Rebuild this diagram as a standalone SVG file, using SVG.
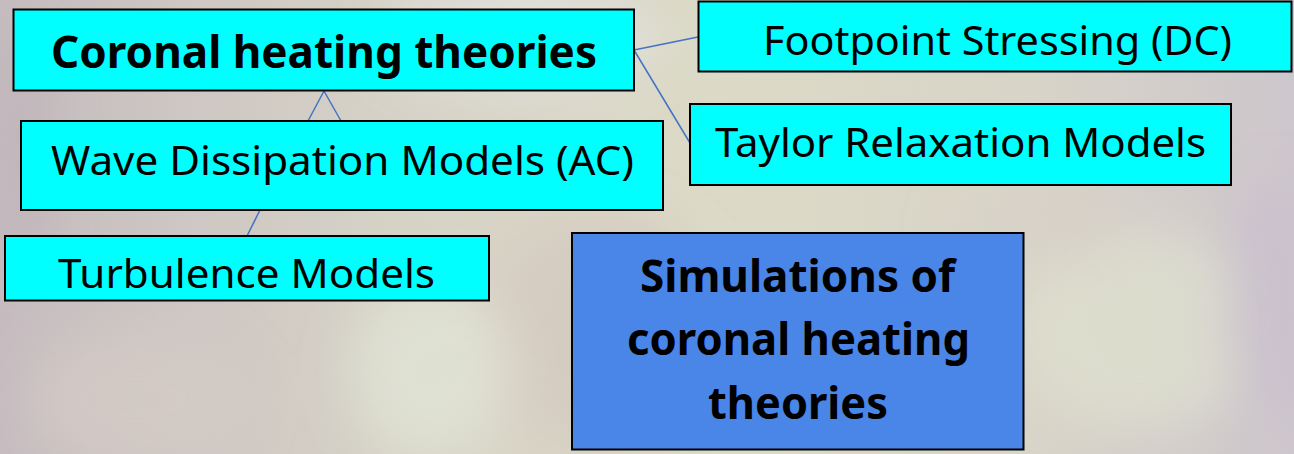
<svg xmlns="http://www.w3.org/2000/svg" width="1294" height="454" viewBox="0 0 1294 454">
  <defs>
    <linearGradient id="bg" x1="0" y1="0" x2="1" y2="0">
      <stop offset="0" stop-color="#c6bcc0"/>
      <stop offset="0.3" stop-color="#d6d2c6"/>
      <stop offset="0.55" stop-color="#dcdac6"/>
      <stop offset="0.8" stop-color="#d8d4c8"/>
      <stop offset="1" stop-color="#cdc6cc"/>
    </linearGradient>
    <filter id="blur" x="-50%" y="-50%" width="200%" height="200%">
      <feGaussianBlur stdDeviation="25"/>
    </filter>
    <style>
      .box { fill: #00ffff; stroke: #000000; stroke-width: 2; }
      .sim { fill: #4a86e8; stroke: #000000; stroke-width: 2; }
      .t { font-family: "Noto Sans", "Open Sans", "Liberation Sans", sans-serif; font-size: 40px; fill: #000000; text-anchor: middle; }
      .b { font-family: "Noto Sans", "Open Sans", "Liberation Sans", sans-serif; font-size: 44px; font-weight: bold; fill: #000000; text-anchor: middle; }
      .c { fill: none; stroke: #4472c4; stroke-width: 1.5; }
    </style>
  </defs>

  <g id="background">
    <rect x="0" y="0" width="1294" height="454" fill="url(#bg)"/>
    <g filter="url(#blur)" opacity="0.7">
      <ellipse cx="520" cy="40" rx="140" ry="50" fill="#e4e4e6"/>
      <ellipse cx="600" cy="330" rx="120" ry="120" fill="#d4c8c0"/>
      <ellipse cx="430" cy="370" rx="80" ry="90" fill="#e2e6d8"/>
      <ellipse cx="140" cy="400" rx="110" ry="70" fill="#d6ccc6"/>
      <ellipse cx="1140" cy="330" rx="120" ry="100" fill="#e0e2d0"/>
      <ellipse cx="1270" cy="300" rx="40" ry="120" fill="#c8bece"/>
      <ellipse cx="20" cy="150" rx="30" ry="120" fill="#bdb2b8"/>
      <ellipse cx="1040" cy="230" rx="90" ry="40" fill="#d8d2c8"/>
    </g>
  </g>

  <g id="connectors">
    <line class="c" x1="634" y1="50" x2="698" y2="37"/>
    <line class="c" x1="634" y1="50" x2="690" y2="143"/>
    <line class="c" x1="324" y1="91" x2="308" y2="121"/>
    <line class="c" x1="324" y1="91" x2="341" y2="121"/>
    <line class="c" x1="260" y1="210" x2="247" y2="236"/>
  </g>

  <g id="node-coronal">
    <rect class="box" x="13.5" y="9.5" width="620.5" height="81"/>
    <text class="b" x="324" y="67.5" textLength="546" lengthAdjust="spacingAndGlyphs">Coronal heating theories</text>
  </g>

  <g id="node-footpoint">
    <rect class="box" x="698.5" y="1.5" width="593" height="70"/>
    <text class="t" x="997.5" y="55" textLength="469" lengthAdjust="spacingAndGlyphs">Footpoint Stressing (DC)</text>
  </g>

  <g id="node-taylor">
    <rect class="box" x="690" y="104" width="541" height="81"/>
    <text class="t" x="960.5" y="157" textLength="491" lengthAdjust="spacingAndGlyphs">Taylor Relaxation Models</text>
  </g>

  <g id="node-wave">
    <rect class="box" x="21" y="121" width="642" height="89"/>
    <text class="t" x="342.5" y="174.5" textLength="583" lengthAdjust="spacingAndGlyphs">Wave Dissipation Models (AC)</text>
  </g>

  <g id="node-turbulence">
    <rect class="box" x="5" y="236" width="484" height="64.5"/>
    <text class="t" x="246.5" y="288" textLength="377" lengthAdjust="spacingAndGlyphs">Turbulence Models</text>
  </g>

  <g id="node-simulations">
    <rect class="sim" x="572" y="233" width="451.5" height="216.5"/>
    <text class="b" x="797.5" y="292" textLength="315" lengthAdjust="spacingAndGlyphs">Simulations of</text>
    <text class="b" x="798.5" y="355" textLength="343" lengthAdjust="spacingAndGlyphs">coronal heating</text>
    <text class="b" x="798" y="419" textLength="180" lengthAdjust="spacingAndGlyphs">theories</text>
  </g>
</svg>
